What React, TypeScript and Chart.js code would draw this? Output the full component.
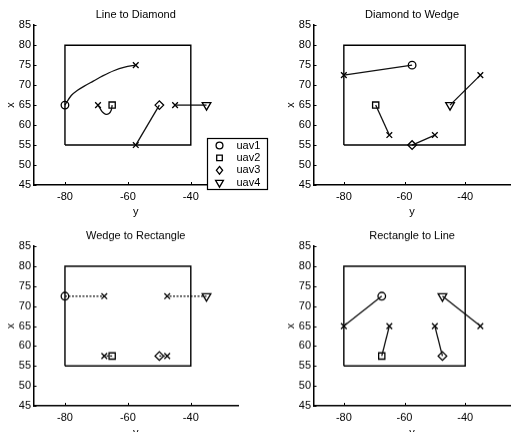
import React, { useEffect, useRef } from "react";
import { Chart, registerables } from "chart.js";

Chart.register(...registerables);

const FONT = "'Liberation Sans', Arial, Helvetica, sans-serif";

// ---------- data ----------
const plotTitles = ["Line to Diamond", "Diamond to Wedge", "Wedge to Rectangle", "Rectangle to Line"];
const uavNames = ["uav1", "uav2", "uav3", "uav4"];
const xAxisTitle = "y";
const yAxisTitle = "x";
const xTickValues = [-80, -60, -40];
const yTickValues = [45, 50, 55, 60, 65, 70, 75, 80, 85];
const xRange = [-90, -25];
const yRange = [45, 85];

// boundary rectangle
const rectH = [-80, -80, -40, -40, -80];
const rectV = [55, 80, 80, 55, 55];

// trajectories: horizontal axis ("y") and vertical axis ("x"); start = formation marker, end = cross
const lineToDiamondH = [
  [-80, -78, -76, -74, -71, -68, -64.5, -61, -57.5],
  [-65, -65.3, -66, -67, -68, -68.8, -69.5],
  [-50, -57.5],
  [-35, -45],
];
const lineToDiamondV = [
  [65, 67.4, 68.7, 69.7, 71, 72.3, 73.6, 74.5, 75],
  [65, 63.7, 62.9, 62.7, 63.2, 64.1, 65],
  [65, 55],
  [65, 65],
];

const diamondToWedgeH = [
  [-57.5, -80],
  [-69.5, -65],
  [-57.5, -50],
  [-45, -35],
];
const diamondToWedgeV = [
  [75, 72.5],
  [65, 57.5],
  [55, 57.5],
  [65, 72.5],
];

const wedgeToRectangleH = [
  [-80, -67.5],
  [-65, -67.5],
  [-50, -47.5],
  [-35, -47.5],
];
const wedgeToRectangleV = [
  [72.5, 72.5],
  [57.5, 57.5],
  [57.5, 57.5],
  [72.5, 72.5],
];

const rectangleToLineH = [
  [-67.5, -80],
  [-67.5, -65],
  [-47.5, -50],
  [-47.5, -35],
];
const rectangleToLineV = [
  [72.5, 65],
  [57.5, 65],
  [57.5, 65],
  [72.5, 65],
];

// ---------- styles ----------
const uavMarkers = ["circle", "rect", "rectRot", "triangle"];
const uavMarkerRadius = [3.8, 4.4, 4.3, 5];
const uavMarkerRotation = [0, 0, 0, 180];

type Panel = {
  title: string;
  h: number[][];
  v: number[][];
  left: number;
  top: number;
  width: number;
  height: number;
  padRight: number;
  legend: boolean;
  dash: number[];
};

const panels: Panel[] = [
  { title: plotTitles[0], h: lineToDiamondH, v: lineToDiamondV, left: 0, top: 0, width: 275, height: 220, padRight: 37, legend: true, dash: [] },
  { title: plotTitles[1], h: diamondToWedgeH, v: diamondToWedgeV, left: 280, top: 0, width: 237, height: 220, padRight: 0, legend: false, dash: [] },
  { title: plotTitles[2], h: wedgeToRectangleH, v: wedgeToRectangleV, left: 0, top: 221, width: 275, height: 219.5, padRight: 37, legend: false, dash: [2, 1.5] },
  { title: plotTitles[3], h: rectangleToLineH, v: rectangleToLineV, left: 280, top: 221, width: 237, height: 219.5, padRight: 0, legend: false, dash: [] },
];

function drawMarker(ctx: CanvasRenderingContext2D, style: string, x: number, y: number, r: number) {
  ctx.beginPath();
  if (style === "circle") {
    ctx.arc(x, y, r, 0, Math.PI * 2);
  } else if (style === "rect") {
    const s = r / Math.SQRT2;
    ctx.rect(x - s, y - s, 2 * s, 2 * s);
  } else if (style === "rectRot") {
    ctx.moveTo(x, y - r);
    ctx.lineTo(x + r * 0.8, y);
    ctx.lineTo(x, y + r);
    ctx.lineTo(x - r * 0.8, y);
    ctx.closePath();
  } else {
    // downward triangle
    ctx.moveTo(x - r * 0.87, y - r * 0.5);
    ctx.lineTo(x + r * 0.87, y - r * 0.5);
    ctx.lineTo(x, y + r);
    ctx.closePath();
  }
  ctx.stroke();
}

const inwardTicks = {
  id: "inwardTicks",
  afterDatasetsDraw(chart: any) {
    const { ctx, chartArea, scales } = chart;
    ctx.save();
    ctx.strokeStyle = "#000";
    ctx.lineWidth = 1;
    ctx.beginPath();
    xTickValues.forEach((v) => {
      const px = Math.round(scales.x.getPixelForValue(v)) + 0.5;
      ctx.moveTo(px, chartArea.bottom);
      ctx.lineTo(px, chartArea.bottom - 3);
    });
    yTickValues.forEach((v) => {
      const py = Math.round(scales.y.getPixelForValue(v)) + 0.5;
      ctx.moveTo(chartArea.left, py);
      ctx.lineTo(chartArea.left + 3, py);
    });
    ctx.stroke();
    ctx.restore();
  },
};

const legendBox = {
  id: "legendBox",
  afterDraw(chart: any) {
    const show = chart.options.plugins.legendBox && chart.options.plugins.legendBox.show;
    if (!show) return;
    const ctx: CanvasRenderingContext2D = chart.ctx;
    const bx = 207.5, by = 138.5, bw = 60, bh = 51;
    ctx.save();
    ctx.fillStyle = "#fff";
    ctx.fillRect(bx, by, bw, bh);
    ctx.strokeStyle = "#000";
    ctx.lineWidth = 1.2;
    ctx.strokeRect(bx, by, bw, bh);
    ctx.font = `11px ${FONT}`;
    ctx.textBaseline = "middle";
    ctx.textAlign = "left";
    uavNames.forEach((name, i) => {
      const cy = by + 7 + i * 12.4;
      ctx.lineWidth = 1.3;
      drawMarker(ctx, uavMarkers[i], bx + 12, cy, uavMarkerRadius[i] * 0.9);
      ctx.fillStyle = "#000";
      ctx.fillText(name, bx + 29, cy);
    });
    ctx.restore();
  },
};

function SubPlot({ panel }: { panel: Panel }) {
  const ref = useRef<HTMLCanvasElement | null>(null);
  useEffect(() => {
    if (!ref.current) return;
    const datasets: any[] = [];
    datasets.push({
      data: rectH.map((x, i) => ({ x, y: rectV[i] })),
      showLine: true,
      borderColor: "#000",
      borderWidth: 1.4,
      pointRadius: 0,
      tension: 0,
      clip: false,
    });
    panel.h.forEach((hs, u) => {
      const vs = panel.v[u];
      datasets.push({
        data: hs.map((x, i) => ({ x, y: vs[i] })),
        showLine: true,
        borderColor: "#111",
        borderWidth: 1.3,
        borderDash: panel.dash,
        pointRadius: 0,
        tension: hs.length > 2 ? 0.3 : 0,
        clip: false,
      });
      datasets.push({
        data: [{ x: hs[0], y: vs[0] }],
        pointStyle: uavMarkers[u],
        pointRadius: uavMarkerRadius[u],
        pointRotation: uavMarkerRotation[u],
        pointBorderColor: "#000",
        pointBackgroundColor: "rgba(0,0,0,0)",
        pointBorderWidth: 1.3,
        showLine: false,
        clip: false,
      });
      datasets.push({
        data: [{ x: hs[hs.length - 1], y: vs[vs.length - 1] }],
        pointStyle: "crossRot",
        pointRadius: 4,
        pointBorderColor: "#000",
        pointBorderWidth: 1.3,
        showLine: false,
        clip: false,
      });
    });

    const font = { family: FONT, size: 11, weight: "normal" as const };
    const chart = new Chart(ref.current, {
      type: "scatter",
      data: { datasets },
      plugins: [inwardTicks, legendBox],
      options: {
        responsive: false,
        animation: false,
        events: [],
        layout: { padding: { left: 0, right: panel.padRight, top: 0, bottom: 0 } },
        plugins: {
          legend: { display: false },
          tooltip: { enabled: false },
          title: {
            display: true,
            text: panel.title,
            fullSize: false,
            color: "#000",
            font,
            padding: { top: 8, bottom: 4 },
          },
          // @ts-ignore
          legendBox: { show: panel.legend },
        },
        scales: {
          x: {
            type: "linear",
            min: xRange[0],
            max: xRange[1],
            afterBuildTicks: (s: any) => {
              s.ticks = xTickValues.map((value) => ({ value }));
            },
            afterFit: (s: any) => {
              s.height = 35;
            },
            grid: { display: false, drawTicks: false },
            border: { display: true, color: "#000", width: 1.5 },
            ticks: { color: "#000", font, padding: 5, maxRotation: 0, autoSkip: false },
            title: { display: true, text: xAxisTitle, color: "#000", font, padding: { top: 0, bottom: 1 } },
          },
          y: {
            type: "linear",
            min: yRange[0],
            max: yRange[1],
            afterBuildTicks: (s: any) => {
              s.ticks = yTickValues.map((value) => ({ value }));
            },
            afterFit: (s: any) => {
              s.width = 33.5;
            },
            grid: { display: false, drawTicks: false },
            border: { display: true, color: "#000", width: 1.5 },
            ticks: { color: "#000", font, padding: 2.5, autoSkip: false },
            title: { display: true, text: yAxisTitle, color: "#000", font, padding: { top: 4, bottom: 0 } },
          },
        },
      } as any,
    });
    return () => chart.destroy();
  }, [panel]);

  return (
    <canvas
      ref={ref}
      width={panel.width}
      height={panel.height}
      style={{ position: "absolute", left: panel.left, top: panel.top, width: panel.width, height: panel.height }}
    />
  );
}

export default function App() {
  return (
    <div
      style={{
        position: "absolute",
        left: 0,
        top: 0,
        width: 517,
        height: 432,
        overflow: "hidden",
        background: "#fff",
      }}
    >
      {panels.map((p, i) => (
        <SubPlot key={i} panel={p} />
      ))}
    </div>
  );
}
